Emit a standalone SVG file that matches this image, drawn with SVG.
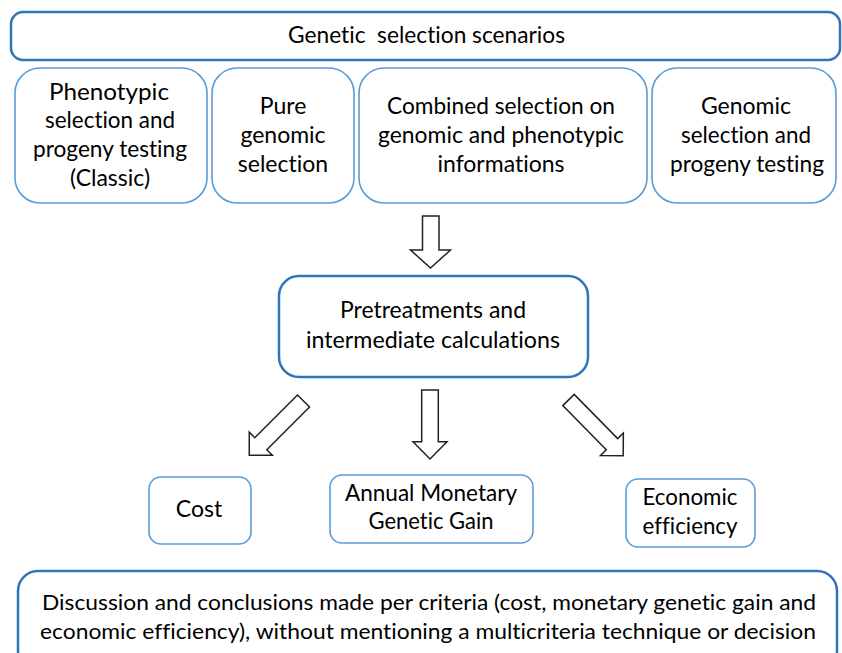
<svg xmlns="http://www.w3.org/2000/svg" width="842" height="653" viewBox="0 0 842 653">
<style>
.t{font-family:Lato,"Liberation Sans",sans-serif;font-size:23px;fill:#000;text-anchor:middle;font-variant-ligatures:none;font-feature-settings:"liga" 0,"dlig" 0,"clig" 0}
.b{font-size:21.5px}
.main{fill:#fff;stroke:#2E75B6;stroke-width:2.5}
.sub{fill:#fff;stroke:#5B9BD5;stroke-width:1.6}
.arr{fill:#fff;stroke:#222;stroke-width:1.5;stroke-linejoin:miter}
</style>
<rect width="842" height="653" fill="#fff"/>
<g id="scenarios">
<rect class="main" x="11" y="12" width="829" height="48" rx="12"/>
<text class="t" x="426.5" y="43" textLength="277" lengthAdjust="spacingAndGlyphs" xml:space="preserve">Genetic  selection scenarios</text>
</g>
<g id="phenotypic">
<rect class="sub" x="15" y="68" width="192" height="135" rx="25"/>
<text class="t" x="109" y="100" textLength="120" lengthAdjust="spacingAndGlyphs">Phenotypic</text>
<text class="t" x="110" y="128" textLength="130" lengthAdjust="spacingAndGlyphs">selection and</text>
<text class="t" x="110" y="157" textLength="154" lengthAdjust="spacingAndGlyphs">progeny testing</text>
<text class="t" x="110" y="186">(Classic)</text>
</g>
<g id="pure">
<rect class="sub" x="212" y="68" width="142" height="135" rx="25"/>
<text class="t" x="283" y="114">Pure</text>
<text class="t" x="283" y="143">genomic</text>
<text class="t" x="283" y="172">selection</text>
</g>
<g id="combined">
<rect class="sub" x="359" y="68" width="288" height="135" rx="25"/>
<text class="t" x="501" y="114" textLength="228" lengthAdjust="spacingAndGlyphs">Combined selection on</text>
<text class="t" x="501" y="143" textLength="246" lengthAdjust="spacingAndGlyphs">genomic and phenotypic</text>
<text class="t" x="501" y="172">informations</text>
</g>
<g id="genomic">
<rect class="sub" x="652" y="68" width="184" height="135" rx="25"/>
<text class="t" x="746" y="114">Genomic</text>
<text class="t" x="746" y="143" textLength="130" lengthAdjust="spacingAndGlyphs">selection and</text>
<text class="t" x="747" y="172" textLength="154" lengthAdjust="spacingAndGlyphs">progeny testing</text>
</g>
<g id="pretreatments">
<rect class="main" x="279" y="276" width="309" height="101" rx="20" stroke-width="2"/>
<text class="t" x="433" y="318" textLength="186" lengthAdjust="spacingAndGlyphs">Pretreatments and</text>
<text class="t" x="433" y="348" textLength="254" lengthAdjust="spacingAndGlyphs">intermediate calculations</text>
</g>
<g id="cost">
<rect class="sub" x="149" y="477" width="102" height="67" rx="12"/>
<text class="t" x="199" y="517">Cost</text>
</g>
<g id="gain">
<rect class="sub" x="330" y="475" width="203" height="68" rx="12"/>
<text class="t" x="431" y="501" textLength="172" lengthAdjust="spacingAndGlyphs">Annual Monetary</text>
<text class="t" x="431" y="529" textLength="125" lengthAdjust="spacingAndGlyphs">Genetic Gain</text>
</g>
<g id="efficiency">
<rect class="sub" x="626" y="479" width="129" height="68" rx="12"/>
<text class="t" x="690" y="505" textLength="95" lengthAdjust="spacingAndGlyphs">Economic</text>
<text class="t" x="690" y="534" textLength="95" lengthAdjust="spacingAndGlyphs">efficiency</text>
</g>
<g id="discussion">
<rect class="main" x="18" y="571" width="819" height="100" rx="20"/>
<text class="t b" x="429" y="610" textLength="774" lengthAdjust="spacingAndGlyphs">Discussion and conclusions made per criteria (cost, monetary genetic gain and</text>
<text class="t b" x="428" y="639" textLength="776" lengthAdjust="spacingAndGlyphs">economic efficiency), without mentioning a multicriteria technique or decision</text>
</g>
<g id="connectors">
<polygon class="arr" points="422.5,216 439,216 439,250 450.5,250 430.5,268 410.5,250 422.5,250"/>
<polygon class="arr" points="421.7,390 438.3,390 438.3,441.7 447,441.7 430,459 413,441.7 421.7,441.7"/>
<polygon class="arr" transform="translate(303.5,401) rotate(135)" points="0,-8.5 60.4,-8.5 60.4,-16.3 76.7,0 60.4,16.3 60.4,8.5 0,8.5"/>
<polygon class="arr" transform="translate(568.5,400) rotate(45.5)" points="0,-8 62,-8 62,-16 78,0 62,16 62,8 0,8"/>
</g>
</svg>
